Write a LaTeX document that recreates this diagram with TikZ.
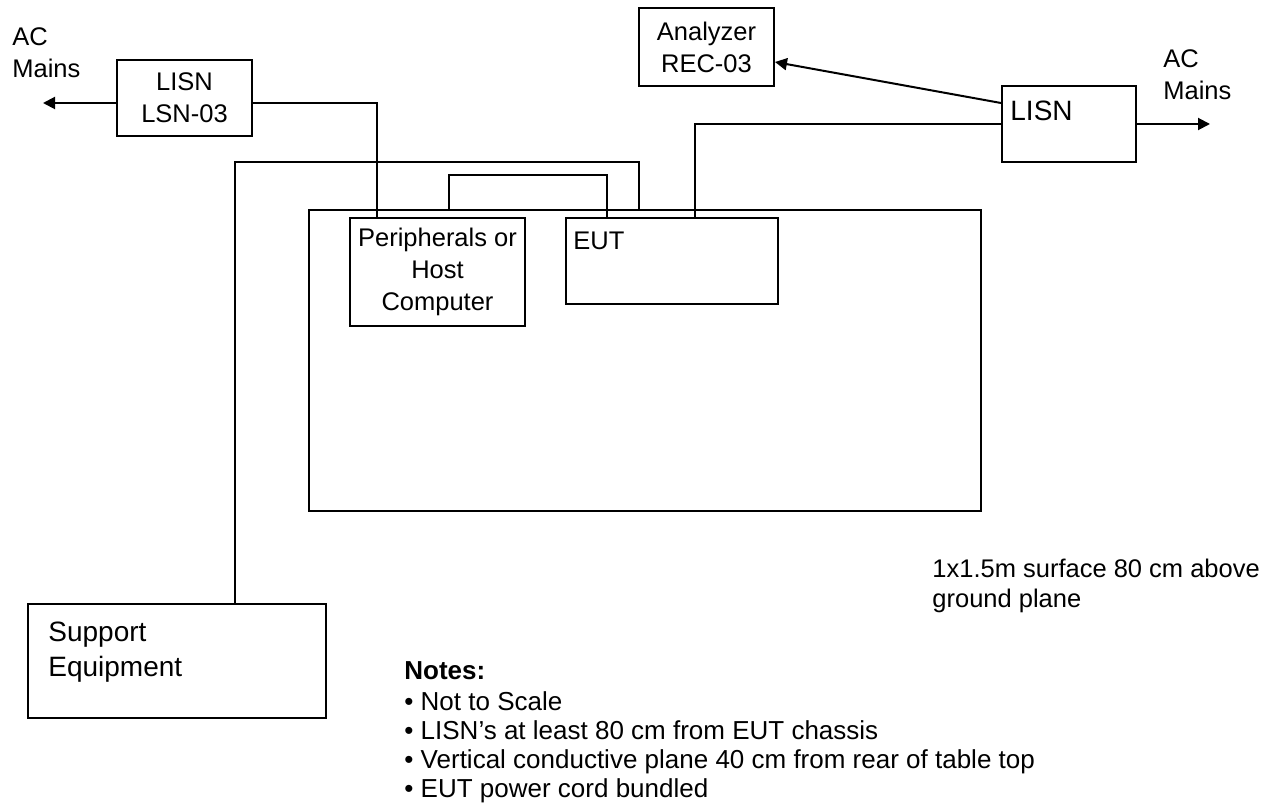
\documentclass[tikz,border=0pt]{standalone}
\usepackage{fontspec}
\setmainfont{Liberation Sans}
\usetikzlibrary{arrows.meta}
\newcommand{\diagsize}{\fontsize{12.75pt}{16pt}\selectfont}
\newcommand{\bigdiagsize}{\fontsize{14pt}{17.5pt}\selectfont}
\newcommand{\notesize}{\fontsize{13pt}{14.5pt}\selectfont}
\tikzset{
  unitbox/.style   = {shape=rectangle, draw, line width=1pt,
                      inner sep=0pt, anchor=north west},
  boxtext/.style   = {align=center, font=\diagsize},
  plaintext/.style = {anchor=north west, inner sep=0pt,
                      align=left, font=\diagsize},
  cable/.style     = {draw, line width=1pt},
  feed/.style      = {cable, -{Triangle[length=6pt,width=6pt]}}
}

\begin{document}
\begin{tikzpicture}[x=0.5pt, y=-0.5pt]
  \useasboundingbox (0,0) rectangle (1282,812);

  % table top and the units on it
  \node [unitbox, minimum width=336pt, minimum height=150.5pt] (table) at (308,209) {};
  \node [unitbox, boxtext, minimum width=87.5pt, minimum height=54pt] (periph) at (349,217)
    {Peripherals or\\Host\\Computer};
  \node [unitbox, minimum width=106pt, minimum height=43pt] (eut) at (565,217) {};
  \node [plaintext] (euttxt) at (573,232) {EUT};

  % measuring side
  \node [unitbox, boxtext, minimum width=67.5pt, minimum height=38pt] (lisnA) at (116,59)
    {LISN\\LSN-03};
  \node [unitbox, boxtext, minimum width=67.5pt, minimum height=39pt] (anlz) at (638,7)
    {Analyzer\\REC-03};
  \node [unitbox, minimum width=67pt, minimum height=38pt] (lisnB) at (1001,85) {};
  \node [plaintext, font=\bigdiagsize] (lisnBtxt) at (1010,101) {LISN};
  \node [unitbox, minimum width=149pt, minimum height=57pt] (support) at (27,603) {};
  \node [plaintext, font=\bigdiagsize] (supporttxt) at (48,622) {Support\\Equipment};

  % free texts
  \node [plaintext] (acLtxt) at (12,27) {AC\\Mains};
  \node [plaintext] (acRtxt) at (1163,49) {AC\\Mains};
  \node [plaintext, font=\fontsize{12.75pt}{15pt}\selectfont] (surface) at (932,559)
    {1x1.5m surface 80 cm above\\ground plane};
  \node [plaintext, font=\notesize] (notes) at (404,661)
    {\textbf{Notes:}\\[1pt]
     • Not to Scale\\
     • LISN’s at least 80 cm from EUT chassis\\
     • Vertical conductive plane 40 cm from rear of table top\\
     • EUT power cord bundled};

  % cables
  \coordinate (acL) at (43,103);
  \coordinate (acR) at (1210,121);
  \coordinate (supBend) at (639,162);
  \coordinate (linkBend) at (449,175);

  \draw [feed] (lisnA.west |- acL) -- (acL);
  \draw [cable] (lisnA.east |- acL) -| ([xshift=14pt]periph.north west);
  \draw [cable] ([xshift=104pt]support.north west) |- (supBend) -- (supBend |- table.north);
  \draw [cable] (linkBend |- table.north) -- (linkBend) -| ([xshift=21pt]eut.north west);
  \draw [cable] (lisnB.west) -| ([xshift=65pt]eut.north west);
  \draw [feed] (lisnB.east) -- (acR |- lisnB.east);
  \draw [feed] ([yshift=-9pt]lisnB.north west) -- ([yshift=-7.5pt]anlz.east);
\end{tikzpicture}
\end{document}
